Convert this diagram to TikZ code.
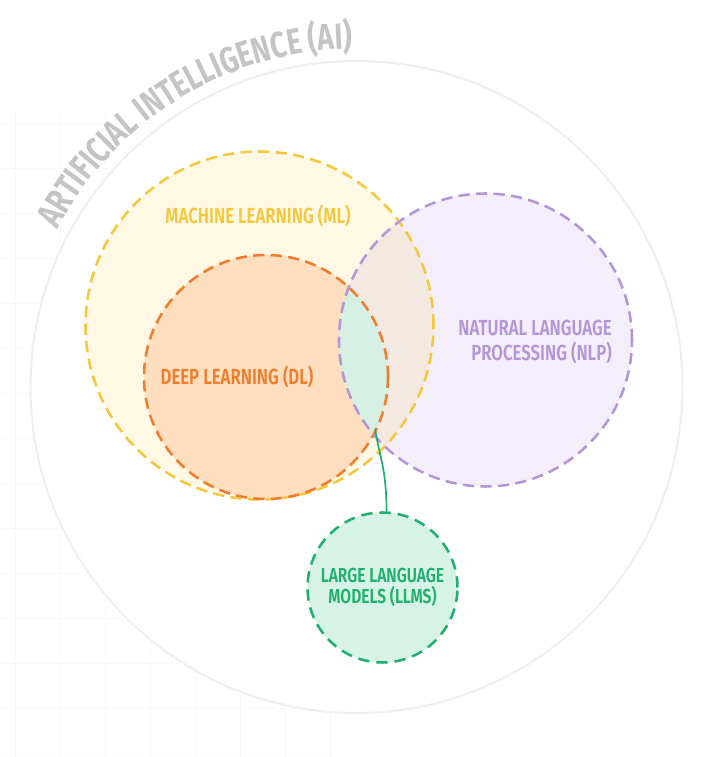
\documentclass[tikz,border=0pt]{standalone}
\usepackage{fontspec}
\newfontfamily\dinfont{Fira Sans SemiBold}[FakeStretch=0.77]
\newfontfamily\aifont{Fira Sans Bold}[FakeStretch=0.76]
\usepackage{tikz}
\usetikzlibrary{decorations.text}
\definecolor{aigrey}{HTML}{C4C4C4}
\definecolor{airing}{HTML}{EFEFEF}
\definecolor{gridgrey}{HTML}{F8F8F8}
\definecolor{mlline}{HTML}{F5C83C}
\definecolor{mlfill}{HTML}{FEF8E5}
\definecolor{dlline}{HTML}{F07D2C}
\definecolor{dlfill}{HTML}{FDDEBF}
\definecolor{nlpline}{HTML}{B495D6}
\definecolor{nlpfill}{HTML}{F3EEFA}
\definecolor{overlapfill}{HTML}{F3E9E0}
\definecolor{lensfill}{HTML}{D6F1E4}
\definecolor{llmline}{HTML}{1FAF6E}
\definecolor{llmfill}{HTML}{D6F3E6}
\tikzset{
  vennset/.style={circle,inner sep=0pt,line width=1.8pt,dash pattern=on 8pt off 4.5pt},
  airing/.style={circle,inner sep=0pt,fill=white,draw=airing,line width=1.4pt},
  setlabel/.style={font=\dinfont\fontsize{15.5}{17.7}\selectfont,align=center,inner sep=0pt},
  smalllabel/.style={font=\dinfont\fontsize{14.4}{15.2}\selectfont,align=center,inner sep=0pt},
  link/.style={line width=1.2pt,draw=llmline}
}

\begin{document}
\begin{tikzpicture}
  \useasboundingbox (0,0) rectangle (18,18.925);
  \fill[white] (0,0) rectangle (18,18.925);
  \draw[gridgrey,line width=0.6pt,xstep=1.125,ystep=1.125,shift={(0.375,0.1)}] (-0.375,-0.1) grid (8,16);

  \coordinate (c-ai) at (8.9125,9.25);
  \coordinate (c-ml) at (6.4875,10.7875);
  \coordinate (c-dl) at (6.65,9.5);
  \coordinate (c-nlp) at (12.1375,10.425);
  \coordinate (c-llm) at (9.5625,4.2375);
  \coordinate (lensbot) at (9.38,8.2);

  \node[airing,minimum size=16.3cm] (ai) at (c-ai) {};
  \path[decorate,decoration={text along path,text align=center,text color=aigrey,
      text={|\aifont\fontsize{26}{30}\selectfont|ARTIFICIAL INTELLIGENCE (AI)}}]
    (c-ai) ++(154:8.45) arc[start angle=154,end angle=89,radius=8.45];

  \fill[mlfill] (c-ml) circle (4.35);
  \fill[nlpfill] (c-nlp) circle (3.6625);
  \begin{scope}
    \clip (c-ml) circle (4.35);
    \fill[overlapfill] (c-nlp) circle (3.6625);
  \end{scope}
  \fill[dlfill] (c-dl) circle (3.05);
  \begin{scope}
    \clip (c-dl) circle (3.05);
    \fill[lensfill] (c-nlp) circle (3.6625);
  \end{scope}

  \foreach \n/\d/\col in {ml/8.7/mlline,dl/6.1/dlline,nlp/7.325/nlpline}{
    \node[vennset,draw=\col,minimum size=\d cm] (\n) at (c-\n) {};
  }

  \node[setlabel,text=mlline] (mllab) at (6.45,13.525) {MACHINE LEARNING (ML)};
  \node[setlabel,text=dlline] (dllab) at (5.925,9.5) {DEEP LEARNING (DL)};
  \node[setlabel,text=nlpline,align=right,anchor=east] (nlplab) at (15.3,10.375)
    {NATURAL LANGUAGE\\PROCESSING (NLP)};

  \node[vennset,draw=llmline,fill=llmfill,dash pattern=on 8pt off 5pt,minimum size=3.75cm,
    smalllabel,text=llmline] (llm) at (c-llm) {LARGE LANGUAGE\\MODELS (LLMS)};
  \draw[link] (llm.87) .. controls +(0,1.1) and +(0.1,-0.7) .. (lensbot);
\end{tikzpicture}
\end{document}
